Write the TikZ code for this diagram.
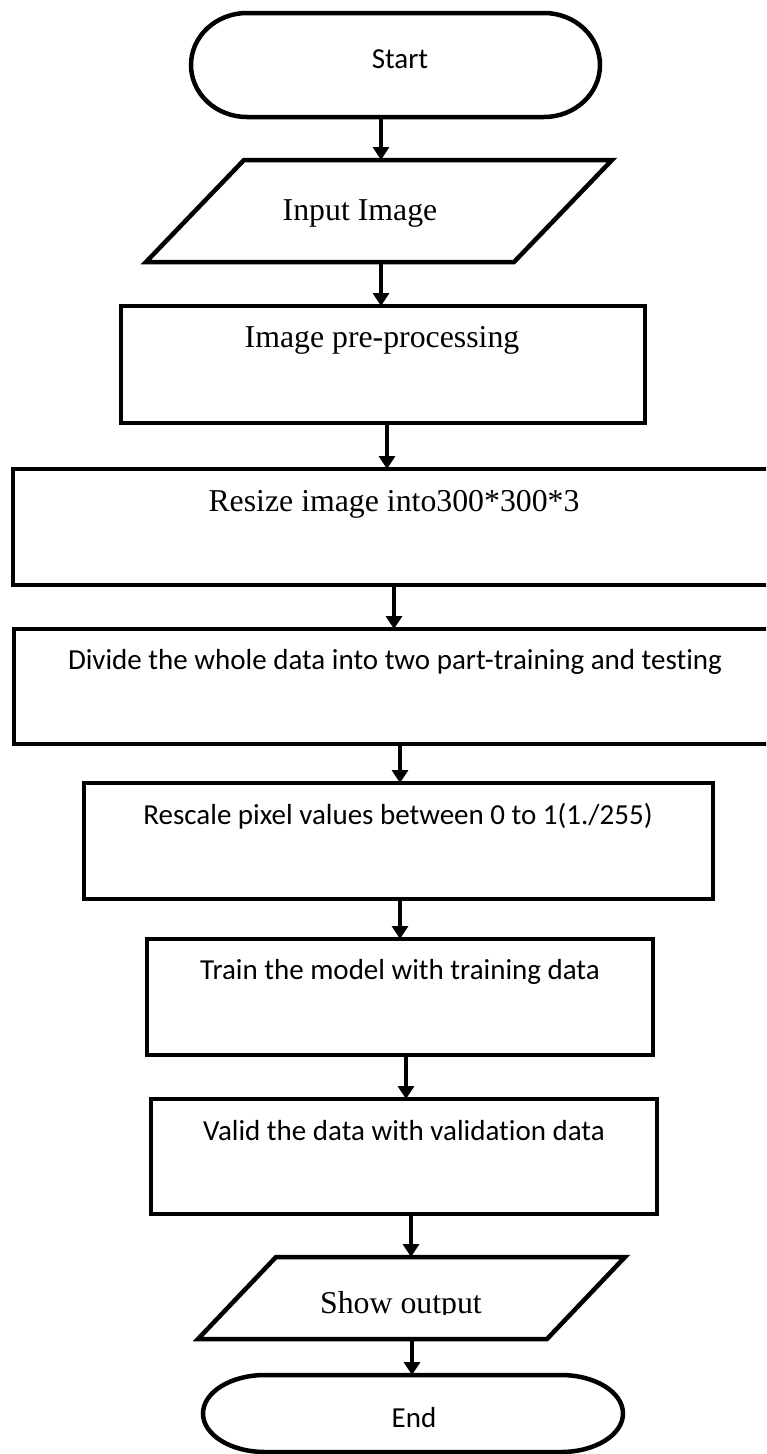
\documentclass[tikz,border=0pt]{standalone}
\usepackage{fontspec}
\newfontfamily\flowserif{Liberation Serif}
\newfontfamily\flowsans[RawFeature={-liga}]{Carlito}
\usetikzlibrary{arrows.meta}
\begin{document}
\begin{tikzpicture}[x=1pt,y=-1pt,
  outline/.style={line width=4.5pt, line join=miter},
  box/.style={draw, line width=4.5pt, inner sep=0pt, outer sep=0pt},
  frame/.style={inner sep=0pt, outer sep=0pt},
  flow/.style={line width=4.5pt, -{Triangle[width=16pt,length=13pt]}},
  serif/.style={font=\flowserif\fontsize{31.8}{38}\selectfont, anchor=base, inner sep=0pt},
  sans/.style={font=\flowsans\fontsize{29}{35}\selectfont, anchor=base, inner sep=0pt},
]
\useasboundingbox (0,0) rectangle (766,1454);
\clip (0,0) rectangle (766,1454);
\fill[white] (0,0) rectangle (766,1454);

% x positions of the vertical connectors
\coordinate (a1) at (381,0);
\coordinate (a2) at (381,0);
\coordinate (a3) at (387,0);
\coordinate (a4) at (394,0);
\coordinate (a5) at (400,0);
\coordinate (a6) at (400,0);
\coordinate (a7) at (406,0);
\coordinate (a8) at (411,0);
\coordinate (a9) at (412,0);

% Start terminal
\node[frame, minimum width=409pt, minimum height=104pt] (start) at (395.5,65) {};
\draw[outline] ([xshift=56pt]start.north west) -- ([xshift=-56pt]start.north east)
  arc[start angle=90, end angle=-90, x radius=56pt, y radius=52pt]
  -- ([xshift=56pt]start.south west)
  arc[start angle=270, end angle=90, x radius=56pt, y radius=52pt] -- cycle;
\node[sans] (tstart) at (400,68) {Start};

% Input parallelogram
\node[frame, minimum width=466pt, minimum height=102pt] (input) at (379,211) {};
\draw[outline] ([xshift=98pt]input.north west) -- (input.north east)
  -- ([xshift=-98pt]input.south east) -- (input.south west) -- cycle;
\node[serif] (tinput) at (360,220) {Input Image};

% Process boxes
\node[box, minimum width=524pt, minimum height=117pt] (pre) at (383,364.5) {};
\node[serif] (tpre) at (382,347) {Image pre-processing};

\node[box, minimum width=767pt, minimum height=116pt] (resize) at (396.5,527) {};
\node[serif] (tresize) at (394,511) {Resize image into300*300*3};

\node[box, minimum width=766pt, minimum height=115pt] (divide) at (397,686.5) {};
\node[sans] (tdivide) at (395,669) {Divide the whole data into two part-training and testing};

\node[box, minimum width=629pt, minimum height=116pt] (rescale) at (398.5,841) {};
\node[sans] (trescale) at (398,824) {Rescale pixel values between 0 to 1(1./255)};

\node[box, minimum width=506pt, minimum height=116pt] (train) at (400,997) {};
\node[sans] (ttrain) at (400,979) {Train the model with training data};

\node[box, minimum width=506pt, minimum height=115pt] (valid) at (404,1156.5) {};
\node[sans] (tvalid) at (404,1140) {Valid the data with validation data};

% Output parallelogram
\node[frame, minimum width=427pt, minimum height=82pt] (show) at (411.5,1298) {};
\draw[outline] ([xshift=78pt]show.north west) -- (show.north east)
  -- ([xshift=-78pt]show.south east) -- (show.south west) -- cycle;
\begin{scope}
  \clip (250,1257) rectangle (570,1314);
  \node[serif] (tshow) at (401,1313) {Show output};
\end{scope}

% End terminal
\node[frame, minimum width=420pt, minimum height=77pt] (end) at (413,1413.5) {};
\draw[outline] ([xshift=62pt]end.north west) -- ([xshift=-62pt]end.north east)
  arc[start angle=90, end angle=-90, x radius=62pt, y radius=38.5pt]
  -- ([xshift=62pt]end.south west)
  arc[start angle=270, end angle=90, x radius=62pt, y radius=38.5pt] -- cycle;
\node[sans] (tend) at (414,1427) {End};

% Connectors
\draw[flow] (start.south -| a1) -- (input.north -| a1);
\draw[flow] (input.south -| a2) -- (pre.north -| a2);
\draw[flow] (pre.south -| a3) -- (resize.north -| a3);
\draw[flow] (resize.south -| a4) -- (divide.north -| a4);
\draw[flow] (divide.south -| a5) -- (rescale.north -| a5);
\draw[flow] (rescale.south -| a6) -- (train.north -| a6);
\draw[flow] (train.south -| a7) -- (valid.north -| a7);
\draw[flow] (valid.south -| a8) -- (show.north -| a8);
\draw[flow] (show.south -| a9) -- (end.north -| a9);
\end{tikzpicture}
\end{document}
